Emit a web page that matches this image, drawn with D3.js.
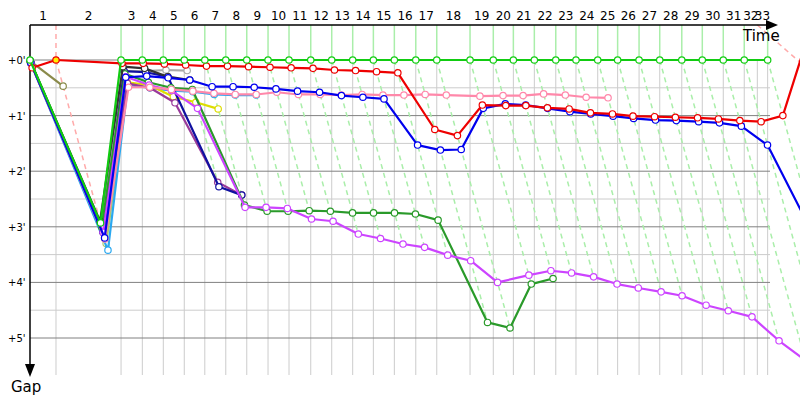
<!DOCTYPE html>
<html><head><meta charset="utf-8">
<script src="https://cdn.jsdelivr.net/npm/d3@7"></script>
<style>body{margin:0;background:#fff}svg{display:block}text{font-family:"DejaVu Sans",Verdana,sans-serif}</style>
</head><body><svg id="c" width="800" height="400"></svg>
<script>
// leader lap-completion times (minutes), index = lap (0 = start)
const lapTimes = [0, 1.71, 5.99, 7.39, 8.77, 10.15, 11.50, 12.88, 14.26, 15.66, 17.04, 18.47, 19.85, 21.23, 22.59, 23.97, 25.38, 26.76, 28.95, 30.48, 31.80, 33.18, 34.59, 35.92, 37.35, 38.66, 40.07, 41.43, 42.88, 44.23, 45.61, 46.99, 47.85, 48.53];
const lapLabels = d3.range(1, 34).map(String);
const gapTicks = [0, 1, 2, 3, 4, 5];
const gapLabels = ["+0'", "+1'", "+2'", "+3'", "+4'", "+5'"];
// gaps (minutes) to leader, index = lap, null = no record
const gapGreen   = [0, 2.93, 0,0,0,0,0,0,0,0,0,0,0,0,0,0,0,0,0,0,0,0,0,0,0,0,0,0,0,0,0,0,null,0];
const gapRed     = [0.14, 0, 0.06, 0.06, 0.07, 0.09, 0.11, 0.11, 0.12, 0.13, 0.14, 0.15, 0.18, 0.19, 0.21, 0.23, 1.25, 1.36, 0.81, 0.82, 0.82, 0.86, 0.88, 0.95, 0.97, 1.01, 1.02, 1.03, 1.04, 1.06, 1.09, 1.11, null, 1.0];
const redTail    = [[51.5, -0.70]]; // [time, gap] of the next red record, beyond the frame
const gapBlue    = [0.05, 3.2, 0.31, 0.29, 0.32, 0.36, 0.48, 0.48, 0.49, 0.52, 0.56, 0.58, 0.64, 0.67, 0.70, 1.53, 1.62, 1.61, 0.87, 0.79, 0.81, 0.87, 0.93, 0.97, 1.01, 1.05, 1.08, 1.09, 1.11, 1.13, 1.19, 1.53, null, 3.3];
const gapPink    = [0.06, 3.22, 0.49, 0.49, 0.53, 0.56, 0.60, 0.62, 0.62, 0.58, 0.62, 0.62, 0.63, 0.62, 0.63, 0.63, 0.62, 0.63, 0.65, 0.64, 0.64, 0.61, 0.63, 0.67, 0.68];
const gapForest  = [0.02, 3.0, 0.25, 0.40, 0.50, 0.53, 2.61, 2.72, 2.72, 2.71, 2.72, 2.75, 2.75, 2.75, 2.77, 2.88, 4.72, 4.82, 4.03, 3.93];
const gapViolet  = [0.04, 3.1, 0.3, 0.45, 0.55, 0.87, 2.65, 2.65, 2.67, 2.86, 2.90, 3.13, 3.21, 3.31, 3.37, 3.51, 3.61, 4.00, 3.87, 3.79, 3.83, 3.90, 4.03, 4.10, 4.17, 4.24, 4.41, 4.51, 4.62, 5.05, 5.40, 5.70, null, 6.10];
const gapBlack   = [0.03, 2.9, 0.12, 0.15, 0.30, 0.36];
const gapGray    = [0.03, 3.0, 0.2, 0.2, 0.18, 0.19];
const gapYellow  = [0.04, 3.2, 0.4, 0.45, 0.66, 0.76, 0.88];
const gapPurple  = [0.05, 3.1, 0.42, 0.5, 0.77, 2.20, 2.43];
const gapNavy    = [0.05, 3.1, 0.2, 0.22, 0.3, 2.28, 2.43];
const gapCyan    = [0.06, 3.42, 0.45, 0.5, 0.55, 0.57, 0.62, 0.63, 0.63];
const gapLime    = [0.03, 3.3, 0.45];
const gapOlive   = [0.02, 0.47];

const series = [
  {g: gapOlive,  c: "#8a8a4a"},
  {g: gapLime,   c: "#a6cc70"},
  {g: gapGray,   c: "#aaaaaa"},
  {g: gapCyan,   c: "#2aa8f0"},
  {g: gapYellow, c: "#dddd00"},
  {g: gapPurple, c: "#9a3a9a"},
  {g: gapNavy,   c: "#1010a0"},
  {g: gapForest, c: "#2a9a2a"},
  {g: gapViolet, c: "#cc44ff"},
  {g: gapPink,   c: "#ff88aa"},
  {g: gapBlack,  c: "#333333"},
  {g: gapBlue,   c: "#0000ee"},
  {g: gapRed,    c: "#ee0000", tail: redTail},
  {g: gapGreen,  c: "#11cc11"}
];

const svg = d3.select("#c");
const x = d3.scaleLinear().domain([0, 770 / 15.2]).range([30, 800]);
const y = d3.scaleLinear().domain([0, 5]).range([60, 338]);
const gTop = y.invert(25);
const xEnd = 770;

svg.append("defs").append("clipPath").attr("id", "plotclip")
  .append("rect").attr("x", 0).attr("y", 0).attr("width", 800).attr("height", 375);

// horizontal grid
const minor = [0.5, 1.5, 2.5, 3.5, 4.5];
svg.append("g").selectAll("line").data(minor).join("line")
  .attr("x1", 30).attr("x2", xEnd).attr("y1", d => y(d)).attr("y2", d => y(d))
  .attr("stroke", "#cccccc").attr("stroke-width", 1);
// vertical grid
svg.append("g").selectAll("line").data(lapTimes.slice(1)).join("line")
  .attr("x1", d => x(d)).attr("x2", d => x(d)).attr("y1", y(0)).attr("y2", 375)
  .attr("stroke", "#cccccc").attr("stroke-width", 1);
svg.append("g").selectAll("line").data(gapTicks).join("line")
  .attr("x1", 30).attr("x2", xEnd).attr("y1", d => y(d)).attr("y2", d => y(d))
  .attr("stroke", "#808080").attr("stroke-width", 1);

// isochrones: from the lap line at the top, through the leader, down to the last car of that lap
const iso = svg.append("g").attr("clip-path", "url(#plotclip)");
lapTimes.forEach((t, k) => {
  if (k === 0) return;
  const pinkish = (k === 1);
  const col = pinkish ? "#ffaaaa" : "#aaeeaa";
  if (k === 32) {
    iso.append("line").attr("x1", x(t)).attr("y1", y(gTop)).attr("x2", 800).attr("y2", y(0.04))
      .attr("stroke", "#ffaaaa").attr("stroke-width", 1.5).attr("stroke-dasharray", "5,4");
    return;
  }
  const gmax = d3.max(series, s => s.g[k]);
  iso.append("line").attr("x1", x(t)).attr("x2", x(t)).attr("y1", y(gTop)).attr("y2", y(0))
    .attr("stroke", col).attr("stroke-width", 1.5).attr("stroke-dasharray", pinkish ? "5,4" : null);
  iso.append("line").attr("x1", x(t)).attr("y1", y(0)).attr("x2", x(t + gmax)).attr("y2", y(gmax))
    .attr("stroke", col).attr("stroke-width", 1.5).attr("stroke-dasharray", "5,4");
});

// axes
svg.append("line").attr("x1", 30).attr("x2", 772).attr("y1", 25).attr("y2", 25).attr("stroke", "#000").attr("stroke-width", 1.5);
svg.append("path").attr("d", "M766,20 L778,25 L766,30 Z").attr("fill", "#000");
svg.append("line").attr("x1", 30).attr("x2", 30).attr("y1", 25).attr("y2", 370).attr("stroke", "#000").attr("stroke-width", 1.5);
svg.append("path").attr("d", "M25,364 L30,377 L35,364 Z").attr("fill", "#000");
svg.append("text").attr("x", 743).attr("y", 41).attr("font-size", 15).text("Time");
svg.append("text").attr("x", 11).attr("y", 392).attr("font-size", 15).text("Gap");

// lap labels, centred in lap intervals
svg.append("g").selectAll("text").data(lapLabels).join("text")
  .attr("x", (d, i) => (x(lapTimes[i]) + x(lapTimes[i + 1])) / 2).attr("y", 20)
  .attr("text-anchor", "middle").attr("font-size", 12).text(d => d);
svg.append("g").selectAll("text").data(gapTicks).join("text")
  .attr("x", 8).attr("y", d => y(d) + 4).attr("font-size", 10).text((d, i) => gapLabels[i]);

// series
const line = d3.line().x(d => x(d.t)).y(d => y(d.g));
const plot = svg.append("g");
series.forEach(s => {
  const pts = s.g.map((g, k) => ({t: g == null ? null : lapTimes[k] + g, g, k})).filter(d => d.g != null);
  const full = pts.concat((s.tail || []).map(([t, g]) => ({t, g, k: -1})));
  plot.append("path").datum(full).attr("d", line).attr("fill", "none")
    .attr("stroke", s.c).attr("stroke-width", 2.2).attr("stroke-linejoin", "round");
  plot.append("g").selectAll("circle").data(pts).join("circle")
    .attr("cx", d => x(d.t)).attr("cy", d => y(d.g)).attr("r", 3.2)
    .attr("fill", d => (s.g === gapRed && d.k === 1) ? "#ffee00" : "#fff")
    .attr("stroke", s.c).attr("stroke-width", 1.2);
});
</script></body></html>
